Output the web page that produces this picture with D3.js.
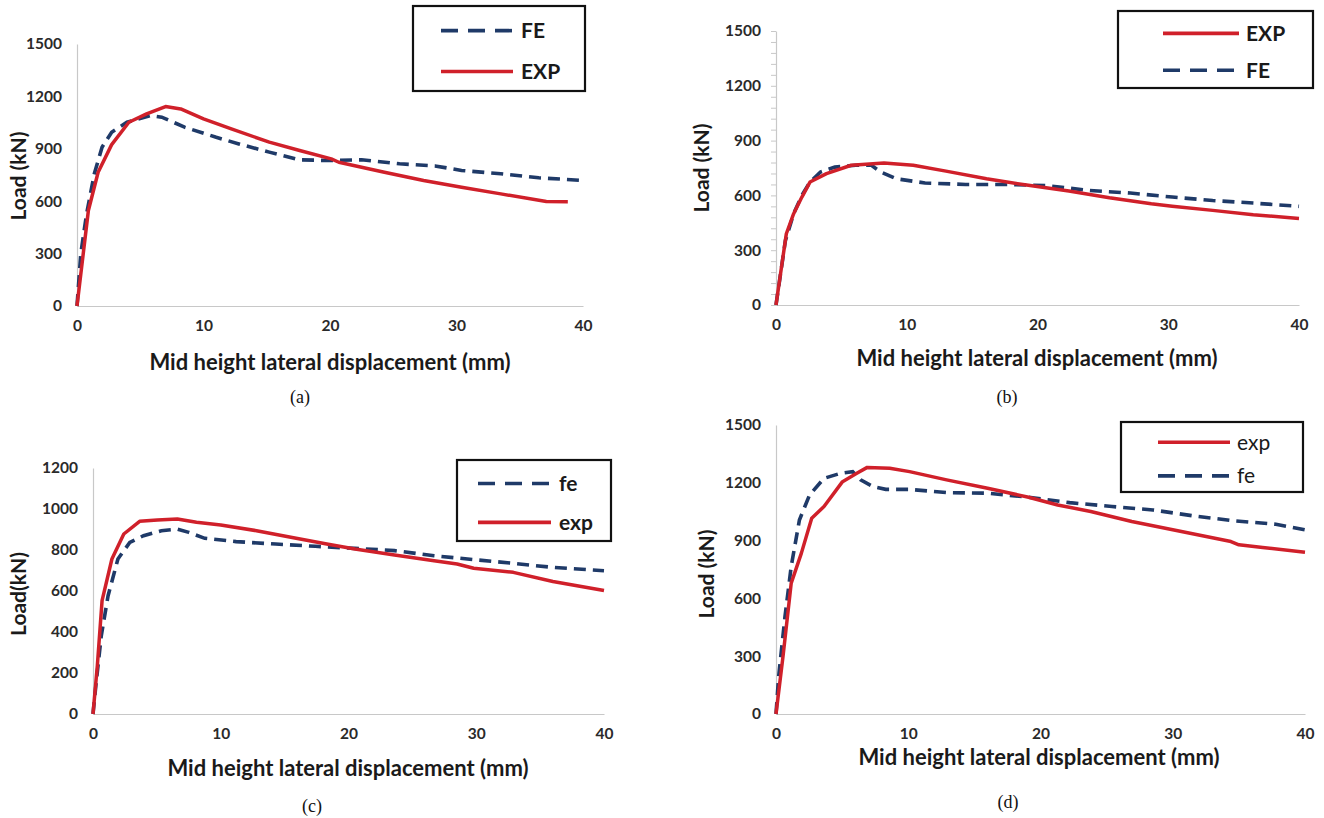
<!DOCTYPE html>
<html><head><meta charset="utf-8">
<script src="https://cdn.jsdelivr.net/npm/d3@7"></script>
<style>
body{margin:0;background:#fff}
svg{display:block}
.tick text{font-family:Lato,"Open Sans",sans-serif;font-weight:700;font-size:15.5px;fill:#2a2a2a}
</style></head><body>
<svg id="c" width="1324" height="818"></svg>
<script>
// ---- data ----
const a_exp_x = [0,0.9,1.67,2.74,4.1,5.5,7.0,8.2,10.0,12.2,15.2,17.6,20.1,20.7,24.3,27.4,30.4,33.5,37.1,38.8];
const a_exp_y = [0,547,766,924,1052,1100,1142,1128,1071,1014,938,890,842,823,766,719,680,642,598,597];
const a_fe_x  = [0,0.3,0.76,1.37,1.98,2.74,3.95,5.8,6.7,8.5,11.0,12.8,15.2,17.6,19.8,22.5,25.5,28.3,30.4,33.5,36.5,40];
const a_fe_y  = [0,300,528,757,909,995,1052,1090,1081,1024,966,928,881,837,833,837,814,802,776,757,734,719];

const b_exp_x = [0,0.79,1.35,1.98,2.6,3.86,5.75,8.26,10.5,13.0,16.1,19.3,22.4,25.5,28.7,30.3,33.4,36.5,40];
const b_exp_y = [0,390,500,591,673,719,765,777,765,733,691,655,624,587,554,541,518,494,474];
const b_fe_x  = [0,0.72,1.35,1.98,2.6,3.4,4.5,6.1,7.3,8.0,9.2,11.4,14.5,17.7,20.8,24.0,27.1,30.3,33.4,36.5,40];
const b_fe_y  = [0,353,500,600,673,728,755,765,765,728,691,668,660,660,653,627,613,591,572,558,540];

const c_exp_x = [0,0.34,0.71,1.48,2.41,3.65,5.04,6.6,8.1,10.0,12.8,15.9,18.3,20.5,23.6,26.7,28.5,29.8,32.9,36.0,40];
const c_exp_y = [0,236,553,756,878,940,946,951,935,922,894,857,829,805,776,748,732,711,691,646,602];
const c_fe_x  = [0,0.25,0.65,1.18,1.95,2.88,3.96,5.35,6.6,7.5,8.75,11.2,14.3,17.4,20.5,23.6,26.7,29.8,32.9,36.0,40];
const c_fe_y  = [0,154,382,577,756,837,870,894,902,886,857,841,829,818,808,797,772,753,735,715,699];

const d_exp_x = [0,0.53,1.15,1.92,2.7,3.63,5.03,6.11,6.9,8.6,10.1,12.9,16.0,19.1,21.3,23.8,26.9,30.0,34.4,35.0,36.8,40];
const d_exp_y = [0,299,679,835,1016,1077,1206,1249,1280,1275,1258,1215,1172,1125,1085,1051,999,956,895,878,864,840];
const d_fe_x  = [0,0.2,0.68,1.15,1.77,2.54,3.63,4.87,5.8,6.4,7.35,8.3,10.1,12.9,16.0,19.1,22.2,25.4,28.5,31.6,34.7,37.8,40];
const d_fe_y  = [0,195,506,766,1007,1137,1223,1249,1258,1215,1180,1166,1166,1149,1146,1125,1097,1077,1059,1028,1002,985,956];

const x_ticks = [0,10,20,30,40];
const y_ticks_1500 = [0,300,600,900,1200,1500];
const y_ticks_1200 = [0,200,400,600,800,1000,1200];
const legend_a = ["FE","EXP"];
const legend_b = ["EXP","FE"];
const legend_c = ["fe","exp"];
const legend_d = ["exp","fe"];
const panel_labels = ["(a)","(b)","(c)","(d)"];
const x_title = "Mid height lateral displacement (mm)";

// ---- layout ----
const RED = "#d0202a", NAVY = "#1f3a68";
const panels = [
  {x0:77, x1:583, yb:306, yt:44, ymax:1500, yticks:y_ticks_1500, exp:[a_exp_x,a_exp_y], fe:[a_fe_x,a_fe_y], legend:legend_a, bold:true,
   ytitle:"Load (kN)", ytx:19, yty:176, xty:362, xtx:330, lab:panel_labels[0], labx:300, laby:403,
   box:[413,6,172,85], leg:[28,100,108], minor:false},
  {x0:776, x1:1299, yb:305, yt:31, ymax:1500, yticks:y_ticks_1500, exp:[b_exp_x,b_exp_y], fe:[b_fe_x,b_fe_y], legend:legend_b, bold:true,
   ytitle:"Load (kN)", ytx:702, yty:168, xty:358, xtx:1037, lab:panel_labels[1], labx:1007, laby:403,
   box:[1118,11,195,77], leg:[45,121,128], minor:true},
  {x0:93, x1:604, yb:714, yt:468, ymax:1200, yticks:y_ticks_1200, exp:[c_exp_x,c_exp_y], fe:[c_fe_x,c_fe_y], legend:legend_c, bold:true,
   ytitle:"Load(kN)", ytx:19, yty:594, xty:768, xtx:348, lab:panel_labels[2], labx:312, laby:812,
   box:[457,460,154,81], leg:[21,94,102], minor:false},
  {x0:776, x1:1305, yb:714, yt:425, ymax:1500, yticks:y_ticks_1500, exp:[d_exp_x,d_exp_y], fe:[d_fe_x,d_fe_y], legend:legend_d, bold:false,
   ytitle:"Load (kN)", ytx:707, yty:574, xty:757, xtx:1039, lab:panel_labels[3], labx:1008, laby:808,
   box:[1121,422,182,70], leg:[37,109,116], minor:false}
];

const svg = d3.select("#c");
panels.forEach(p=>{
  const x = d3.scaleLinear().domain([0,40]).range([p.x0,p.x1]);
  const y = d3.scaleLinear().domain([0,p.ymax]).range([p.yb,p.yt]);
  const g = svg.append("g");

  // x axis
  const xa = g.append("g").attr("transform",`translate(0,${p.yb})`)
    .call(d3.axisBottom(x).tickValues(x_ticks).tickFormat(d3.format("d")).tickSize(0).tickPadding(14));
  xa.select(".domain").attr("stroke","#c8c8c8").attr("stroke-width",1.2);
  // y axis
  const ya = g.append("g").attr("transform",`translate(${p.x0},0)`)
    .call(d3.axisLeft(y).tickValues(p.yticks).tickFormat(d3.format("d")).tickSize(0).tickPadding(15));
  ya.select(".domain").attr("stroke","#c8c8c8").attr("stroke-width",1.2);
  if(p.minor){
    const mt = d3.range(0,p.ymax+1,60);
    g.append("g").attr("transform",`translate(${p.x0},0)`)
      .call(d3.axisLeft(y).tickValues(mt).tickSize(5).tickFormat(""))
      .call(s=>{s.select(".domain").remove(); s.selectAll("line").attr("stroke","#c8c8c8");});
  }

  const line = d3.line().x(d=>x(d[0])).y(d=>y(d[1]));
  const fe = d3.zip(p.fe[0],p.fe[1]);
  const ex = d3.zip(p.exp[0],p.exp[1]);
  g.append("path").datum(fe).attr("d",line).attr("fill","none")
      .attr("stroke",NAVY).attr("stroke-width",3.6).attr("stroke-dasharray","12,7");
  g.append("path").datum(ex).attr("d",line).attr("fill","none")
      .attr("stroke",RED).attr("stroke-width",3.5).attr("stroke-linejoin","round");

  // titles
  g.append("text").attr("x",p.xtx).attr("y",p.xty).attr("text-anchor","middle").attr("dy","0.35em")
    .style("font-family","Lato, 'Open Sans', sans-serif").style("font-weight",700).style("font-size","22px").attr("fill","#1a1a1a")
    .text(x_title);
  g.append("text").attr("transform",`translate(${p.ytx},${p.yty}) rotate(-90)`).attr("text-anchor","middle").attr("dy","0.35em")
    .style("font-family","Lato, 'Open Sans', sans-serif").style("font-weight",700).style("font-size","21px").attr("fill","#1a1a1a")
    .text(p.ytitle);
  g.append("text").attr("x",p.labx).attr("y",p.laby).attr("text-anchor","middle")
    .style("font-family","'Liberation Serif', serif").style("font-size","18px").attr("fill","#111")
    .text(p.lab);

  // legend
  const [bx,by,bw,bh] = p.box;
  g.append("rect").attr("x",bx).attr("y",by).attr("width",bw).attr("height",bh)
    .attr("fill","#fff").attr("stroke","#111").attr("stroke-width",2.2);
  p.legend.forEach((name,i)=>{
    const ly = by + bh*(i===0?0.29:0.77);
    const isFE = name.toLowerCase()==="fe";
    const lx0 = bx + p.leg[0], lx1 = bx + p.leg[1];
    g.append("line").attr("x1",lx0).attr("x2",lx1).attr("y1",ly).attr("y2",ly)
      .attr("stroke",isFE?NAVY:RED).attr("stroke-width",3.6)
      .attr("stroke-dasharray",isFE?"17,10":null);
    g.append("text").attr("x",bx+p.leg[2]).attr("y",ly).attr("dy","0.35em")
      .style("font-family","Lato, 'Open Sans', sans-serif").style("font-weight",p.bold?700:400).style("font-size","21px").attr("fill","#1a1a1a")
      .text(name);
  });
});
</script>
</body></html>
